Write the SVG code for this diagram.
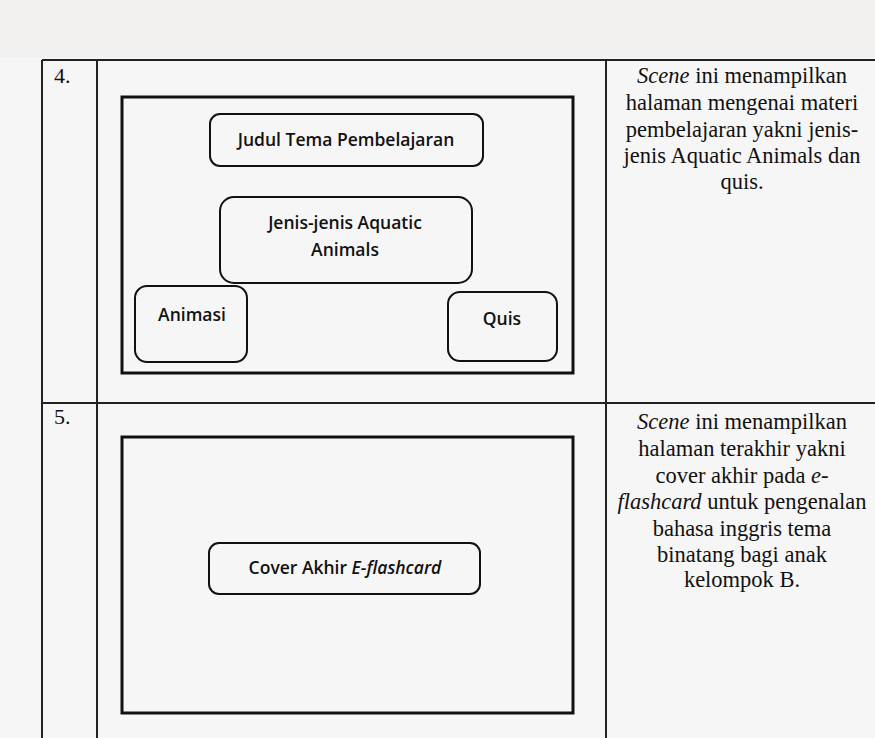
<svg xmlns="http://www.w3.org/2000/svg" width="875" height="738" viewBox="0 0 875 738">
<style>
.grid{stroke:#222;stroke-width:2;fill:none}
.frame{stroke:#111;stroke-width:3;fill:none}
.node{stroke:#111;stroke-width:2;fill:none}
.lbl{font-family:"Open Sans","Liberation Sans",sans-serif;font-weight:600;font-size:17.5px;fill:#111;text-anchor:middle}
.desc{font-family:"Liberation Serif",serif;font-size:22.5px;fill:#111;text-anchor:middle}
.num{font-family:"Liberation Serif",serif;font-size:22px;fill:#111}
</style>
<rect width="875" height="738" fill="#f7f6f6"/>
<rect width="875" height="58" fill="#f2f1f0"/>
<g id="table">
<line class="grid" x1="42" y1="60" x2="875" y2="60"/>
<line class="grid" x1="42" y1="403" x2="875" y2="403"/>
<line class="grid" x1="42" y1="60" x2="42" y2="738"/>
<line class="grid" x1="97" y1="60" x2="97" y2="738"/>
<line class="grid" x1="606" y1="60" x2="606" y2="738"/>
<text class="num" x="54" y="83">4.</text>
<text class="num" x="54" y="424">5.</text>
</g>
<g id="scene4">
<rect class="frame" x="122" y="97" width="451" height="276"/>
</g>
<g id="judul">
<rect class="node" x="210" y="114" width="273" height="52" rx="10"/>
<text class="lbl" x="346" y="146">Judul Tema Pembelajaran</text>
</g>
<g id="jenis">
<rect class="node" x="220" y="197" width="252" height="86" rx="14"/>
<text class="lbl" x="345" y="229">Jenis-jenis Aquatic</text>
<text class="lbl" x="345" y="256">Animals</text>
</g>
<g id="animasi">
<rect class="node" x="135" y="286" width="112" height="76" rx="12"/>
<text class="lbl" x="192" y="321">Animasi</text>
</g>
<g id="quis">
<rect class="node" x="448" y="292" width="109" height="69" rx="12"/>
<text class="lbl" x="502" y="325">Quis</text>
</g>
<g id="desc4">
<text class="desc" x="742" y="83"><tspan font-style="italic">Scene</tspan> ini menampilkan</text>
<text class="desc" x="742" y="110">halaman mengenai materi</text>
<text class="desc" x="742" y="137">pembelajaran yakni jenis-</text>
<text class="desc" x="742" y="163">jenis Aquatic Animals dan</text>
<text class="desc" x="742" y="189">quis.</text>
</g>
<g id="scene5">
<rect class="frame" x="122" y="437" width="451" height="276"/>
</g>
<g id="cover">
<rect class="node" x="209" y="543" width="271" height="51" rx="10"/>
<text class="lbl" x="345" y="574">Cover Akhir <tspan font-style="italic">E-flashcard</tspan></text>
</g>
<g id="desc5">
<text class="desc" x="742" y="429"><tspan font-style="italic">Scene</tspan> ini menampilkan</text>
<text class="desc" x="742" y="456">halaman terakhir yakni</text>
<text class="desc" x="742" y="483">cover akhir pada <tspan font-style="italic">e-</tspan></text>
<text class="desc" x="742" y="509"><tspan font-style="italic">flashcard</tspan> untuk pengenalan</text>
<text class="desc" x="742" y="536">bahasa inggris tema</text>
<text class="desc" x="742" y="562">binatang bagi anak</text>
<text class="desc" x="742" y="587">kelompok B.</text>
</g>
<g id="connectors"></g>
</svg>
